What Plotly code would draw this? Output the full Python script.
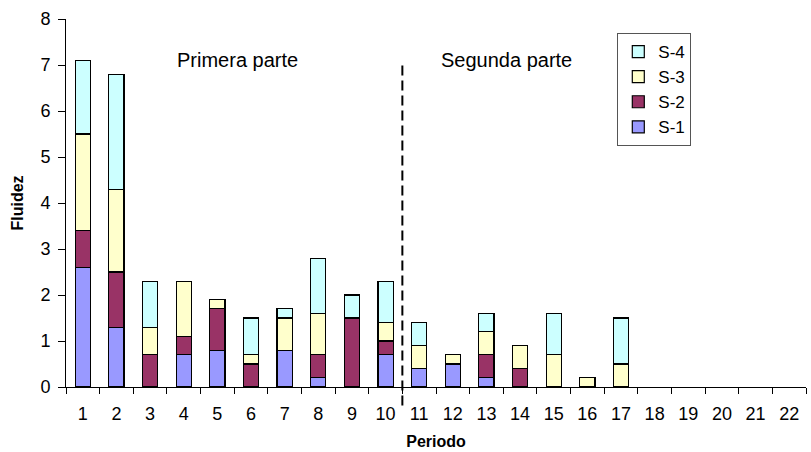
import plotly.graph_objects as go

periodos = [str(i) for i in range(1, 23)]
s1 = [2.6, 1.3, 0.0, 0.7, 0.8, 0.0, 0.8, 0.2, 0.0, 0.7, 0.4, 0.5, 0.2, 0.0, 0.0, 0.0, 0.0, 0, 0, 0, 0, 0]
s2 = [0.8, 1.2, 0.7, 0.4, 0.9, 0.5, 0.0, 0.5, 1.5, 0.3, 0.0, 0.0, 0.5, 0.4, 0.0, 0.0, 0.0, 0, 0, 0, 0, 0]
s3 = [2.1, 1.8, 0.6, 1.2, 0.2, 0.2, 0.7, 0.9, 0.0, 0.4, 0.5, 0.2, 0.5, 0.5, 0.7, 0.2, 0.5, 0, 0, 0, 0, 0]
s4 = [1.6, 2.5, 1.0, 0.0, 0.0, 0.8, 0.2, 1.2, 0.5, 0.9, 0.5, 0.0, 0.4, 0.0, 0.9, 0.0, 1.0, 0, 0, 0, 0, 0]

series = [
    ("S-1", s1, "#9999FF"),
    ("S-2", s2, "#993366"),
    ("S-3", s3, "#FFFFCC"),
    ("S-4", s4, "#CCFFFF"),
]

fig = go.Figure()
for name, vals, color in series:
    # empty segments are left out so they draw no outline
    shown = [v if v else None for v in vals]
    fig.add_trace(go.Bar(
        x=periodos, y=shown, name=name, width=0.45, legendgroup=name,
        marker=dict(color=color, line=dict(color="black", width=1.2)),
    ))

font = "Arial, Liberation Sans, sans-serif"

fig.update_layout(
    width=811, height=452,
    barmode="stack",
    plot_bgcolor="white", paper_bgcolor="white",
    margin=dict(l=66, r=5, t=19, b=65),
    font=dict(family=font, size=18, color="black"),
    showlegend=True,
    legend=dict(
        traceorder="reversed",
        x=0.745, y=0.962, xanchor="left", yanchor="top",
        bordercolor="#555555", borderwidth=1,
        font=dict(size=17), itemwidth=30,
        tracegroupgap=3,
    ),
    xaxis=dict(
        automargin=False,
        showline=True, linecolor="black", linewidth=1,
        ticks="outside", ticklen=6, tickcolor="black",
        tickson="boundaries", showgrid=False,
        ticklabelstandoff=10,
        title=dict(text="<b>Periodo</b>", font=dict(size=16), standoff=13),
        range=[-0.5, 21.5],
    ),
    yaxis=dict(
        automargin=False,
        range=[0, 8], dtick=1,
        showline=True, linecolor="black", linewidth=1,
        ticks="outside", ticklen=7, tickcolor="black",
        showgrid=False, zeroline=False,
        ticklabelstandoff=4,
        title=dict(text="<b>Fluidez</b>", font=dict(size=16), standoff=12),
    ),
)

# dashed separator between the two parts
fig.add_shape(
    type="line", xref="x", yref="paper",
    x0=9.5, x1=9.5, y0=-0.05, y1=7.0 / 8.0,
    line=dict(color="black", width=2, dash="10px,5px"),
)

fig.add_annotation(text="Primera parte", x=4.6, y=7.1, xref="x", yref="y",
                   showarrow=False, font=dict(size=20), yanchor="middle")
fig.add_annotation(text="Segunda parte", x=12.6, y=7.1, xref="x", yref="y",
                   showarrow=False, font=dict(size=20), yanchor="middle")

fig.write_html("out.html")
